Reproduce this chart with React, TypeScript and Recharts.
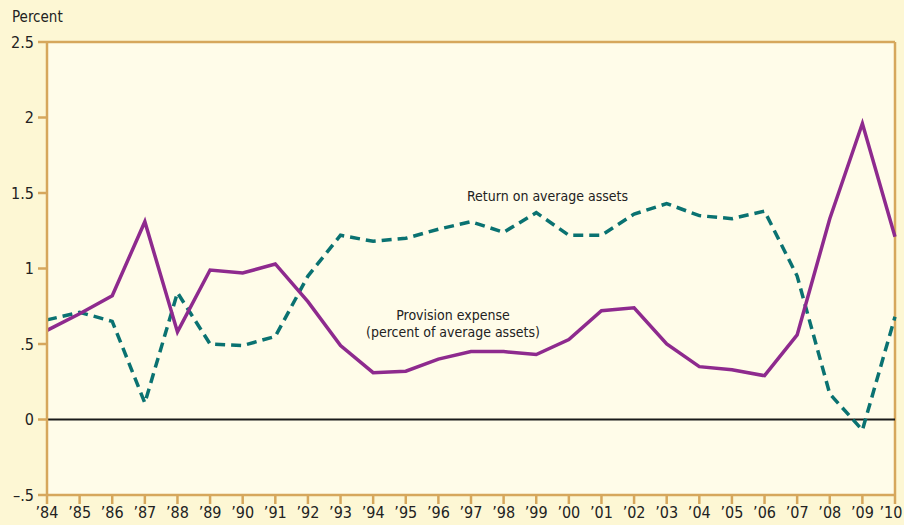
import React from 'react';
import { LineChart, Line, XAxis, YAxis, CartesianGrid, ReferenceLine } from 'recharts';

const years = ['84', '85', '86', '87', '88', '89', '90', '91', '92', '93', '94', '95', '96',
  '97', '98', '99', '00', '01', '02', '03', '04', '05', '06', '07', '08', '09', '10'];

// provision expense, percent of average assets
const provision = [0.59, 0.7, 0.82, 1.31, 0.58, 0.99, 0.97, 1.03, 0.78, 0.49, 0.31, 0.32, 0.4,
  0.45, 0.45, 0.43, 0.53, 0.72, 0.74, 0.5, 0.35, 0.33, 0.29, 0.56, 1.33, 1.96, 1.21];

// return on average assets
const roa = [0.66, 0.71, 0.65, 0.11, 0.84, 0.5, 0.49, 0.55, 0.95, 1.22, 1.18, 1.2, 1.26,
  1.31, 1.24, 1.37, 1.22, 1.22, 1.36, 1.43, 1.35, 1.33, 1.38, 0.95, 0.17, -0.07, 0.68];

const yTicks = [-0.5, 0, 0.5, 1, 1.5, 2, 2.5];
const yTickLabels = ['\u2013.5', '0', '.5', '1', '1.5', '2', '2.5'];

const data = years.map((y, i) => ({ year: '\u2019' + y, provision: provision[i], roa: roa[i] }));

const FONT = '"DejaVu Sans Condensed", "Liberation Sans", Arial, sans-serif';
const TAN = '#d6a75c';

const fmtY = (v: number) => yTickLabels[yTicks.indexOf(v)] ?? String(v);

// last year label sits against the page edge, nudge it in a bit
const YearTick = (props: any) => {
  const { x, y, payload, index } = props;
  const last = index === years.length - 1;
  return (
    <text x={last ? x - 4 : x} y={y} dy={12} textAnchor="middle" fill="#222" fontSize={16} fontFamily={FONT}>
      {payload.value}
    </text>
  );
};

const App: React.FC = () => {
  return (
    <div style={{ position: 'absolute', left: 0, top: 0, width: 904, height: 525, background: '#fdf7d4', fontFamily: FONT, overflow: 'hidden' }}>
      <div style={{ position: 'absolute', left: 12, top: 8, fontSize: 15, color: '#222' }}>Percent</div>
      <LineChart width={904} height={525} data={data} margin={{ top: 42, right: 9, bottom: 0, left: 7 }}>
        <CartesianGrid horizontal={false} vertical={false} fill="#fffce9" />
        <XAxis
          dataKey="year"
          height={30}
          interval={0}
          stroke={TAN}
          strokeWidth={2.5}
          tickSize={9}
          tick={<YearTick />}
        />
        <YAxis
          width={40}
          domain={[-0.5, 2.5]}
          ticks={yTicks}
          tickFormatter={fmtY}
          stroke={TAN}
          strokeWidth={2.5}
          tickSize={9}
          tick={{ fill: '#222', fontSize: 16, fontFamily: FONT, dx: -2 }}
        />
        <ReferenceLine y={2.5} stroke={TAN} strokeWidth={2.5} />
        <ReferenceLine x={'\u201910'} stroke={TAN} strokeWidth={2.5} />
        <ReferenceLine y={0} stroke="#1a1a1a" strokeWidth={2} />
        <Line type="linear" dataKey="roa" stroke="#0a7271" strokeWidth={3.5} strokeDasharray="10 6" dot={false} isAnimationActive={false} />
        <Line type="linear" dataKey="provision" stroke="#8e2a8e" strokeWidth={3.5} dot={false} isAnimationActive={false} />
      </LineChart>
      <div style={{ position: 'absolute', left: 467, top: 188, fontSize: 14, color: '#222', whiteSpace: 'nowrap' }}>Return on average assets</div>
      <div style={{ position: 'absolute', left: 333, top: 307, width: 240, textAlign: 'center', fontSize: 14, lineHeight: '17px', color: '#222', whiteSpace: 'nowrap' }}>
        Provision expense<br />(percent of average assets)
      </div>
    </div>
  );
};

export default App;
